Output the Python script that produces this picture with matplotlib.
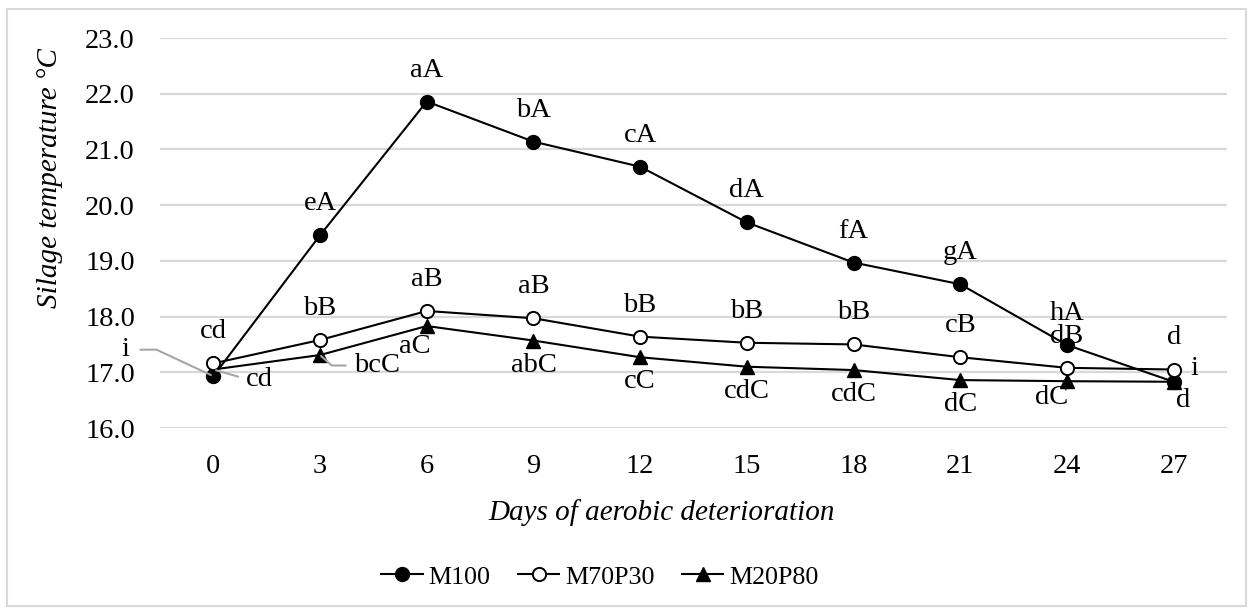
import numpy as np
import matplotlib
matplotlib.use("Agg")
import matplotlib.pyplot as plt
from matplotlib.patches import Rectangle

# ---- data -------------------------------------------------------------
days = [0, 3, 6, 9, 12, 15, 18, 21, 24, 27]
m100 = [16.93, 19.46, 21.86, 21.14, 20.69, 19.69, 18.97, 18.58, 17.49, 16.83]
m70p30 = [17.16, 17.58, 18.10, 17.97, 17.64, 17.53, 17.50, 17.27, 17.08, 17.05]
m20p80 = [17.05, 17.31, 17.83, 17.57, 17.27, 17.10, 17.04, 16.86, 16.84, 16.83]

m100_letters = ['i', 'eA', 'aA', 'bA', 'cA', 'dA', 'fA', 'gA', 'hA', 'i']
m70p30_letters = ['cd', 'bB', 'aB', 'aB', 'bB', 'bB', 'bB', 'cB', 'dB', 'd']
m20p80_letters = ['cd', 'bcC', 'aC', 'abC', 'cC', 'cdC', 'cdC', 'dC', 'dC', 'd']

y_ticks = [16.0, 17.0, 18.0, 19.0, 20.0, 21.0, 22.0, 23.0]

# ---- style ------------------------------------------------------------
FONT = 'Liberation Serif'
FS = 20.5          # ticks and point letters
FS_TITLE = 21      # axis titles
FS_LEG = 18.7      # legend
GRID = '#d9d9d9'
LEAD = '#a6a6a6'
plt.rcParams['font.family'] = FONT

W, H = 1253, 614
fig = plt.figure(figsize=(W / 100, H / 100), dpi=100)

# chart-area border
fig.patches.append(Rectangle((7 / W, 1 - 606 / H), (1246 - 7) / W, (606 - 9) / H,
                             transform=fig.transFigure, fill=False,
                             edgecolor=GRID, lw=1.5))

px0, px1, py0, py1 = 160, 1227, 38, 428
ax = fig.add_axes([px0 / W, 1 - py1 / H, (px1 - px0) / W, (py1 - py0) / H])

x = np.arange(len(days))
ax.set_xlim(-0.5, len(days) - 0.5)
ax.set_ylim(y_ticks[0], y_ticks[-1])
ax.set_yticks(y_ticks)
ax.set_yticklabels([f'{v:.1f}' for v in y_ticks])
ax.set_xticks(x)
ax.set_xticklabels([str(d) for d in days])
for s in ax.spines.values():
    s.set_visible(False)
ax.yaxis.grid(True, color=GRID, lw=1.6)
ax.set_axisbelow(True)
ax.tick_params(axis='both', length=0, labelsize=FS, colors='black')
ax.tick_params(axis='y', pad=18)
ax.tick_params(axis='x', pad=19)

lw = 1.5
ms = 10
l1, = ax.plot(x, m100, color='black', lw=lw, marker='o', ms=ms,
              mfc='black', mec='black', zorder=3, label='M100')
l2, = ax.plot(x, m70p30, color='black', lw=lw, marker='o', ms=ms - 0.5,
              mfc='white', mec='black', mew=1.4, zorder=4, label='M70P30')
l3, = ax.plot(x, m20p80, color='black', lw=lw, marker='^', ms=ms,
              mfc='black', mec='black', zorder=3, label='M20P80')

# ---- point letters ------------------------------------------------------
def put(i, series, text, dx, dy, ha='center', lead=None):
    kw = {}
    if lead is not None:
        kw['arrowprops'] = lead
    ax.annotate(text, (x[i], series[i]), xytext=(dx, dy),
                textcoords='offset pixels', ha=ha, va='baseline',
                fontsize=FS, zorder=6, annotation_clip=False, **kw)

# M100: above, except first and last
for i in range(1, 9):
    put(i, m100, m100_letters[i], 0, 25)
put(0, m100, m100_letters[0], -84, 20, ha='right',
    lead=dict(arrowstyle='-', color=LEAD, lw=1.5, shrinkA=6, shrinkB=2,
              relpos=(1, 0.5),
              connectionstyle='angle,angleA=0,angleB=-25,rad=0'))
put(9, m100, m100_letters[9], 17, 7, ha='left')

# M70P30: above
for i in range(10):
    put(i, m70p30, m70p30_letters[i], 0, 25)

# M20P80: below, with a few displaced labels
put(0, m20p80, m20p80_letters[0], 33, -16, ha='left',
    lead=dict(arrowstyle='-', color=LEAD, lw=1.5, shrinkA=4, shrinkB=2,
              relpos=(0, 0.5)))
put(1, m20p80, m20p80_letters[1], 34, -17, ha='left',
    lead=dict(arrowstyle='-', color=LEAD, lw=1.5, shrinkA=4, shrinkB=1,
              relpos=(0, 0.5),
              connectionstyle='angle,angleA=0,angleB=-42,rad=0'))
put(2, m20p80, m20p80_letters[2], -12, -27)
for i in range(3, 8):
    put(i, m20p80, m20p80_letters[i], 0, -31)
put(8, m20p80, m20p80_letters[8], -15, -23)
put(9, m20p80, m20p80_letters[9], 9, -25)

# ---- axis titles --------------------------------------------------------
fig.text(50 / W, 1 - 178 / H, 'Silage temperature °C', rotation=90,
         ha='center', va='center', fontsize=FS_TITLE, style='italic')
fig.text(662 / W, 1 - 520 / H, 'Days of aerobic deterioration',
         ha='center', va='baseline', fontsize=FS_TITLE, style='italic')

# ---- legend -------------------------------------------------------------
fig.legend(handles=[l1, l2, l3], loc='center', ncol=3, frameon=False,
           bbox_to_anchor=(600 / W, 1 - 577 / H), fontsize=FS_LEG,
           handlelength=1.6, handletextpad=0.23, columnspacing=1.04,
           borderpad=0, borderaxespad=0)

fig.savefig('out.png', dpi=100)
